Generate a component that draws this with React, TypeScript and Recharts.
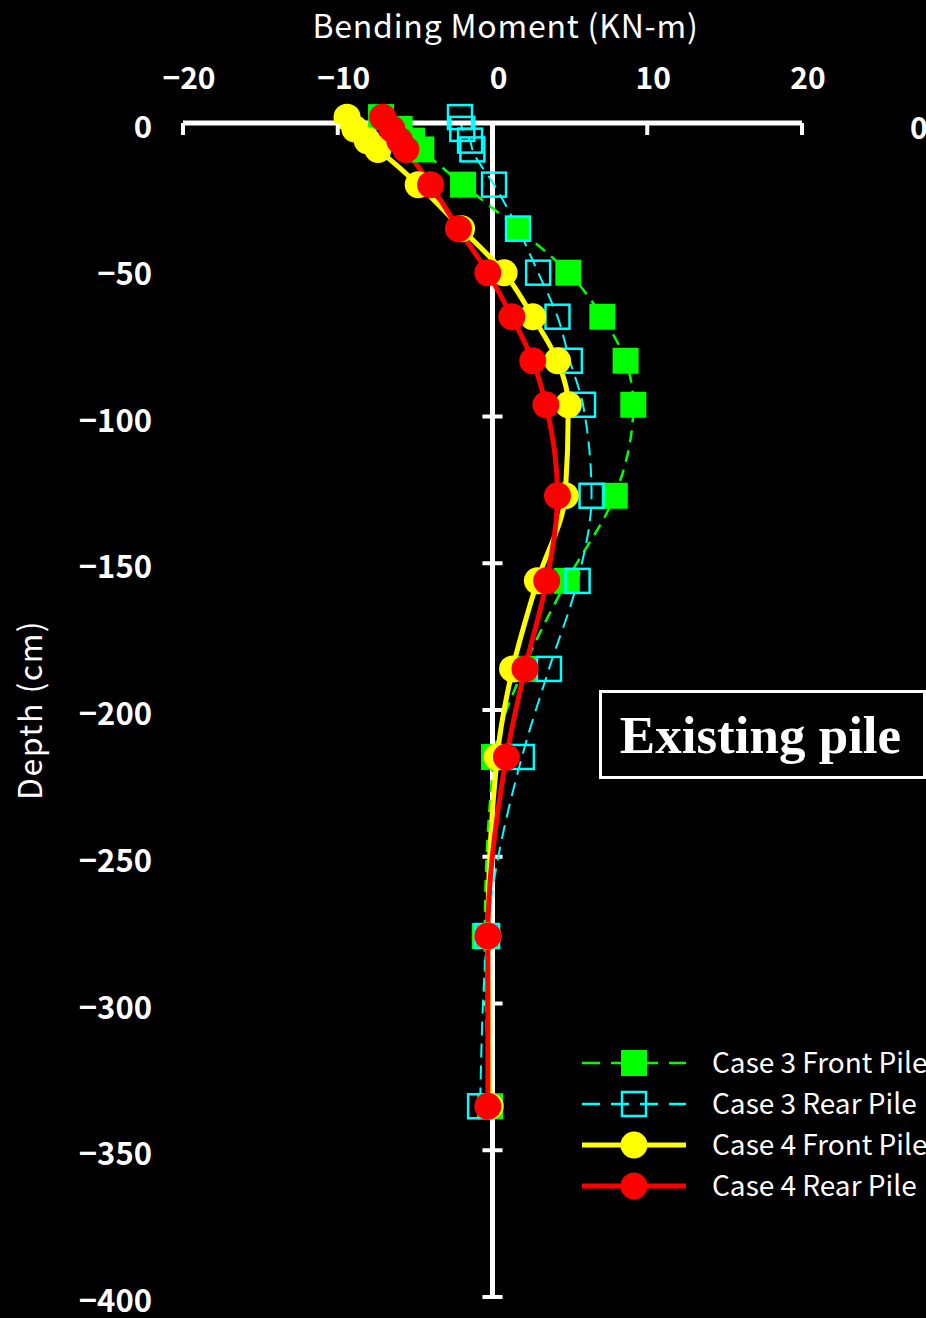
import {
  Legend,
  Line,
  LineChart,
  ReferenceLine,
  XAxis,
  YAxis,
} from "recharts";

const FONT = '"Noto Sans CJK JP", "Noto Sans", sans-serif';

// depth (cm) of each gauge, shared by all four series
const depth = [2, -2, -6, -9, -21, -36, -51, -66, -81, -96, -127, -156, -186, -216, -277, -335];

// bending moment (KN-m)
const case3Front = [-7.2, -6.0, -5.2, -4.6, -1.9, 1.65, 4.9, 7.1, 8.6, 9.1, 7.9, 4.8, 2.0, 0.1, -0.5, -0.15];
const case3Rear = [-2.1, -1.95, -1.45, -1.3, 0.1, 1.65, 2.95, 4.2, 5.0, 5.85, 6.4, 5.5, 3.65, 1.9, -0.35, -0.8];
const case4Front = [-9.4, -8.9, -8.1, -7.4, -4.8, -2.0, 0.75, 2.6, 4.2, 4.9, 4.7, 2.9, 1.3, 0.3, -0.3, -0.15];
const case4Rear = [-7.1, -6.5, -6.0, -5.6, -4.0, -2.2, -0.3, 1.25, 2.6, 3.45, 4.2, 3.5, 2.1, 0.9, -0.3, -0.3];

const xTicks = [-20, -10, 0, 10, 20];
const yTicks = [0, -50, -100, -150, -200, -250, -300, -350, -400];

const series = [
  { key: "c3f", name: "Case 3 Front Pile", color: "#00ff00", dash: "12 8", width: 2.5, marker: "square" },
  { key: "c3r", name: "Case 3 Rear Pile", color: "#00ffff", dash: "14 8", width: 2, marker: "openSquare" },
  { key: "c4f", name: "Case 4 Front Pile", color: "#ffff00", dash: undefined, width: 5, marker: "circle" },
  { key: "c4r", name: "Case 4 Rear Pile", color: "#ff0000", dash: undefined, width: 5, marker: "circle" },
];

const rows = depth.map((d, i) => ({
  depth: d,
  c3f: case3Front[i],
  c3r: case3Rear[i],
  c4f: case4Front[i],
  c4r: case4Rear[i],
}));

const fmt = (v: number) => (v < 0 ? `\u2212${Math.abs(v)}` : `${v}`);

function Marker({ kind, color, cx, cy }: { kind: string; color: string; cx: number; cy: number }) {
  if (kind === "square") {
    return <rect x={cx - 13} y={cy - 13} width={26} height={26} fill={color} />;
  }
  if (kind === "openSquare") {
    return (
      <rect x={cx - 12} y={cy - 12} width={24} height={24} fill="none" stroke={color} strokeWidth={2.5} />
    );
  }
  return <circle cx={cx} cy={cy} r={13.5} fill={color} />;
}

const makeDot = (kind: string, color: string) => (props: any) => {
  const { cx, cy, index } = props;
  if (cx == null || cy == null) return <g key={index} />;
  return <Marker key={index} kind={kind} color={color} cx={cx} cy={cy} />;
};

function XTick({ x, y, payload }: any) {
  return (
    <g>
      <line x1={x} y1={y} x2={x} y2={y + 12} stroke="#fff" strokeWidth={4} />
      <text x={x + 6} y={y - 34} textAnchor="middle" fill="#fff" fontSize={30} fontWeight="bold" fontFamily={FONT}>
        {fmt(payload.value)}
      </text>
    </g>
  );
}

function YTick({ x, y, payload }: any) {
  return (
    <text x={x - 31} y={y + 15} textAnchor="end" fill="#fff" fontSize={31} fontWeight="bold" fontFamily={FONT}>
      {fmt(payload.value)}
    </text>
  );
}

function LegendBox({ payload }: any) {
  const items = (payload ?? [])
    .map((p: any) => series.find((s) => s.key === p.dataKey))
    .filter(Boolean);
  return (
    <svg width={351} height={170}>
      {items.map((s: any, i: number) => {
        const cy = 23 + i * 41;
        return (
          <g key={s.key}>
            <line x1={7} y1={cy} x2={111} y2={cy} stroke={s.color} strokeWidth={s.dash ? 2.5 : 5} strokeDasharray={s.dash ? "18 11" : undefined} />
            <Marker kind={s.marker} color={s.color} cx={59} cy={cy} />
            <text x={137} y={cy + 10} fill="#fff" fontSize={28} fontFamily={FONT}>
              {s.name}
            </text>
          </g>
        );
      })}
    </svg>
  );
}

export default function App() {
  return (
    <div style={{ position: "relative", width: 926, height: 1318, background: "#000", overflow: "hidden" }}>
      <style>{`body{margin:0;background:#000} .recharts-wrapper g[clip-path]{clip-path:none !important}`}</style>
      <LineChart
        width={926}
        height={1318}
        data={rows}
        layout="vertical"
        margin={{ top: 0, right: 124, bottom: 21, left: 0 }}
      >
        <XAxis
          type="number"
          orientation="top"
          domain={[-20, 20]}
          ticks={xTicks}
          height={123}
          tickSize={0}
          tickMargin={0}
          tickLine={false}
          axisLine={{ stroke: "#fff", strokeWidth: 5 }}
          tick={<XTick />}
          allowDataOverflow
          label={{
            content: ({ viewBox }: any) => (
              <text
                x={viewBox.x + viewBox.width / 2 + 13}
                y={38}
                textAnchor="middle"
                fill="#fff"
                fontSize={32}
                letterSpacing={0.8}
                fontFamily={FONT}
              >
                Bending Moment (KN-m)
              </text>
            ),
          }}
        />
        <YAxis
          type="number"
          dataKey="depth"
          domain={[-400, 0]}
          ticks={yTicks}
          reversed
          width={183}
          tickSize={0}
          tickMargin={0}
          tickLine={false}
          axisLine={false}
          tick={<YTick />}
          allowDataOverflow
          label={{
            content: ({ viewBox }: any) => {
              const cy = viewBox.y + viewBox.height / 2;
              return (
                <text
                  x={28}
                  y={cy}
                  transform={`rotate(-90, 28, ${cy})`}
                  textAnchor="middle"
                  dominantBaseline="central"
                  fill="#fff"
                  fontSize={32}
                  letterSpacing={1.5}
                  fontFamily={FONT}
                >
                  Depth (cm)
                </text>
              );
            },
          }}
        />
        <ReferenceLine segment={[{ x: 0, y: 0 }, { x: 0, y: -400 }]} stroke="#fff" strokeWidth={5} />
        {yTicks.slice(1).map((t) => (
          <ReferenceLine
            key={t}
            segment={[{ x: -0.65, y: t }, { x: 0.65, y: t }]}
            stroke="#fff"
            strokeWidth={4}
          />
        ))}
        {series.map((s) => (
          <Line
            key={s.key}
            dataKey={s.key}
            name={s.name}
            type="monotone"
            stroke={s.color}
            strokeWidth={s.width}
            strokeDasharray={s.dash}
            dot={makeDot(s.marker, s.color)}
            activeDot={false}
            isAnimationActive={false}
          />
        ))}
        <Legend
          layout="horizontal"
          verticalAlign="middle"
          align="center"
          content={<LegendBox />}
          wrapperStyle={{ left: 575, top: 1040, width: 351, height: 170 }}
        />
      </LineChart>
      <div
        style={{
          position: "absolute",
          left: 599,
          top: 690,
          width: 327,
          height: 89,
          boxSizing: "border-box",
          border: "3px solid #fff",
          color: "#fff",
          fontFamily: '"Liberation Serif", "Times New Roman", serif',
          fontWeight: "bold",
          fontSize: 53,
          display: "flex",
          alignItems: "center",
          justifyContent: "center",
          paddingRight: 4,
          background: "#000",
        }}
      >
        Existing pile
      </div>
      <div
        style={{
          position: "absolute",
          left: 910,
          top: 106,
          color: "#fff",
          fontFamily: FONT,
          fontSize: 30,
          fontWeight: "bold",
          lineHeight: "40px",
        }}
      >
        0
      </div>
    </div>
  );
}
